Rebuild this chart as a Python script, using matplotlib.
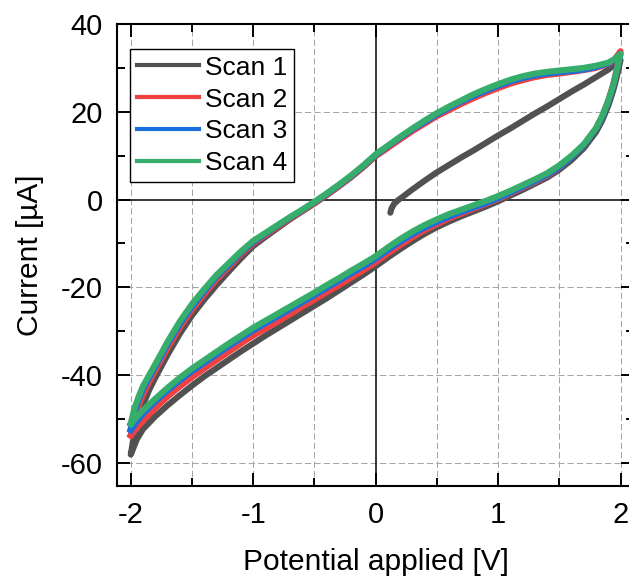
import matplotlib
matplotlib.use("Agg")
import matplotlib.pyplot as plt
from matplotlib.ticker import MultipleLocator
from matplotlib.lines import Line2D

plt.rcParams['font.family'] = ['Liberation Sans', 'DejaVu Sans']
plt.rcParams['axes.unicode_minus'] = False

# ---- data ----
labels = ["Scan 1", "Scan 2", "Scan 3", "Scan 4"]
colors = ["#515151", "#F14040", "#1A6FDF", "#37AD6B"]

# potentials of the forward (upper) branch, -2 -> 2 V
E_up = [-2.0, -1.97, -1.93, -1.9, -1.85, -1.8, -1.75, -1.7, -1.6, -1.5, -1.4, -1.3,
        -1.2, -1.1, -1.0, -0.9, -0.8, -0.7, -0.6, -0.5, -0.4, -0.3, -0.2, -0.1,
        0.0, 0.1, 0.2, 0.3, 0.4, 0.5, 0.6, 0.7, 0.8, 0.9, 1.0, 1.1, 1.2, 1.3,
        1.4, 1.5, 1.6, 1.7, 1.8, 1.9, 1.95, 2.0]
# potentials of the reverse (lower) branch, 2 -> -2 V
E_down = [2.0, 1.97, 1.94, 1.9, 1.85, 1.8, 1.7, 1.6, 1.5, 1.4, 1.3, 1.2, 1.1, 1.0,
          0.9, 0.8, 0.7, 0.6, 0.5, 0.4, 0.3, 0.2, 0.1, 0.0, -0.1, -0.2, -0.3, -0.4,
          -0.5, -0.6, -0.7, -0.8, -0.9, -1.0, -1.1, -1.2, -1.3, -1.4, -1.5, -1.6,
          -1.7, -1.8, -1.9, -1.95, -2.0]

# Scan 1: initial sweep from ~0.12 V up to 2 V
E1_init = [0.12, 0.13, 0.15, 0.18, 0.22, 0.3, 0.4, 0.5, 0.6, 0.7, 0.8, 0.9, 1.0,
           1.1, 1.2, 1.3, 1.4, 1.5, 1.6, 1.7, 1.8, 1.9, 2.0]
I1_init = [-3.0, -2.0, -1.0, -0.2, 0.6, 2.3, 4.3, 6.2, 7.9, 9.6, 11.2, 12.9, 14.6,
           16.2, 17.9, 19.6, 21.2, 22.9, 24.6, 26.2, 27.9, 29.6, 31.8]
I1_down = [31.8, 28.0, 24.8, 21.4, 18.0, 15.4, 11.7, 9.0, 6.8, 5.0, 3.6, 2.2, 0.9,
           -0.4, -1.6, -2.7, -3.8, -5.0, -6.3, -7.8, -9.5, -11.3, -13.2, -15.2,
           -17.1, -18.9, -20.7, -22.5, -24.2, -25.9, -27.6, -29.3, -31.0, -32.8,
           -34.6, -36.5, -38.4, -40.3, -42.4, -44.6, -46.9, -49.4, -52.3, -54.6, -58.1]
I1_up = [-58.1, -53.0, -49.0, -46.8, -43.4, -40.6, -38.0, -35.4, -30.6, -26.4,
         -22.8, -19.5, -16.4, -13.4, -10.6, -8.5, -6.5, -4.5, -2.7, -0.9, 1.0,
         3.0, 5.1, 7.4, 9.9, 11.8]

I2_up = [-53.6, -49.8, -46.6, -44.4, -41.6, -39.0, -36.5, -33.9, -29.2, -25.1,
         -21.6, -18.2, -15.4, -12.5, -10.0, -8.1, -6.2, -4.3, -2.6, -0.8, 1.1,
         3.1, 5.2, 7.5, 10.0, 11.8, 13.7, 15.6, 17.3, 19.0, 20.4, 21.8, 23.1,
         24.3, 25.4, 26.4, 27.2, 27.9, 28.4, 28.7, 29.1, 29.5, 30.0, 30.9, 31.9, 33.8]
I2_down = [33.8, 29.8, 26.2, 22.6, 19.0, 16.2, 12.4, 9.7, 7.3, 5.4, 4.0, 2.7, 1.4,
           0.1, -1.0, -2.1, -3.2, -4.3, -5.6, -7.0, -8.6, -10.4, -12.3, -14.3,
           -16.1, -17.8, -19.5, -21.1, -22.8, -24.4, -26.1, -27.8, -29.4, -31.0,
           -32.8, -34.7, -36.6, -38.5, -40.5, -42.6, -44.9, -47.5, -50.4, -52.0, -53.8]

I3_up = [-52.2, -48.4, -45.3, -43.2, -40.6, -38.1, -35.6, -33.0, -28.4, -24.4,
         -20.9, -17.6, -14.9, -12.1, -9.7, -7.8, -5.9, -4.1, -2.4, -0.6, 1.3,
         3.3, 5.4, 7.7, 10.2, 12.2, 14.1, 16.0, 17.7, 19.4, 20.9, 22.3, 23.6,
         24.8, 25.9, 26.9, 27.7, 28.3, 28.7, 29.0, 29.3, 29.6, 30.2, 31.0, 31.9, 33.2]
I3_down = [33.2, 29.5, 25.9, 22.3, 18.8, 16.1, 12.4, 9.7, 7.4, 5.6, 4.2, 2.9, 1.6,
           0.3, -0.8, -1.8, -2.8, -3.9, -5.1, -6.4, -7.9, -9.6, -11.5, -13.5,
           -15.2, -16.8, -18.5, -20.1, -21.8, -23.4, -25.0, -26.6, -28.2, -29.8,
           -31.6, -33.4, -35.3, -37.2, -39.1, -41.2, -43.5, -46.0, -48.8, -50.5, -52.6]

I4_up = [-51.0, -47.5, -44.5, -42.5, -40.0, -37.5, -35.0, -32.4, -27.8, -23.8,
         -20.4, -17.2, -14.5, -11.8, -9.4, -7.6, -5.8, -4.0, -2.3, -0.5, 1.4,
         3.4, 5.5, 7.8, 10.3, 12.3, 14.3, 16.2, 18.0, 19.7, 21.2, 22.6, 24.0,
         25.2, 26.3, 27.3, 28.1, 28.7, 29.1, 29.4, 29.7, 30.0, 30.5, 31.2, 32.0, 33.2]
I4_down = [33.2, 29.5, 26.0, 22.5, 19.0, 16.3, 12.6, 10.0, 7.8, 6.0, 4.6, 3.3, 2.0,
           0.8, -0.3, -1.3, -2.3, -3.3, -4.5, -5.8, -7.3, -9.0, -10.9, -12.9,
           -14.6, -16.2, -17.9, -19.5, -21.2, -22.8, -24.4, -26.0, -27.6, -29.2,
           -31.0, -32.8, -34.7, -36.6, -38.5, -40.6, -42.9, -45.4, -48.0, -49.5, -51.2]

xticks = [-2, -1, 0, 1, 2]
yticks = [40, 20, 0, -20, -40, -60]

# ---- figure ----
W, H = 629, 580
fig = plt.figure(figsize=(W / 100, H / 100), dpi=100)
L, R, T, B = 117.3, 634.0, 24.0, 485.7
ax = fig.add_axes([L / W, 1 - B / H, (R - L) / W, (B - T) / H])

ax.set_xlim(-2.11, 2.11)
ax.set_ylim(-65.2, 40)

grid_kw = dict(color="#a6a6a6", lw=0.75, ls=(0, (6, 3)), zorder=0)
for xv in [-2, -1.5, -1, -0.5, 0.5, 1, 1.5, 2]:
    ax.axvline(xv, **grid_kw)
for yv in [20, -20, -40, -60]:
    ax.axhline(yv, **grid_kw)
ax.axvline(0, color="black", lw=1.1, zorder=1)
ax.axhline(0, color="black", lw=1.1, zorder=1)

lw = 4.4
ax.plot(E1_init + E_down + E_up[:len(I1_up)], I1_init + I1_down + I1_up,
        color=colors[0], lw=lw, solid_capstyle="round", solid_joinstyle="round", zorder=3)
ax.plot(E_up + E_down, I2_up + I2_down, color=colors[1], lw=lw,
        solid_joinstyle="round", zorder=4)
ax.plot(E_up + E_down, I3_up + I3_down, color=colors[2], lw=lw,
        solid_joinstyle="round", zorder=5)
ax.plot(E_up + E_down, I4_up + I4_down, color=colors[3], lw=lw,
        solid_joinstyle="round", zorder=6)

ax.set_xticks(xticks)
ax.set_yticks(yticks)
ax.xaxis.set_minor_locator(MultipleLocator(0.5))
ax.yaxis.set_minor_locator(MultipleLocator(10))
ax.tick_params(which="both", direction="in", top=True, right=True, width=1.4,
               labelsize=21)
ax.tick_params(which="major", length=9.5)
ax.tick_params(which="minor", length=5.8)
ax.tick_params(axis="y", which="major", pad=10.5)
ax.tick_params(axis="x", which="major", pad=11)
for s in ax.spines.values():
    s.set_linewidth(1.5)

ax.set_xlabel("Potential applied [V]", fontsize=21.5, labelpad=14)
ax.set_ylabel("Current [µA]", fontsize=21.5, labelpad=12)

handles = [Line2D([], [], color=c, lw=3.0) for c in colors]
leg = ax.legend(handles, labels, loc="upper left",
                bbox_to_anchor=(12.7 / (R - L), 1 - 25 / (B - T)),
                borderaxespad=0, fontsize=19, frameon=True, fancybox=False,
                edgecolor="black", framealpha=1, handlelength=2.35,
                handletextpad=0.25, labelspacing=0.3, borderpad=0.25)
leg.get_frame().set_linewidth(1.0)
leg.set_zorder(10)

fig.savefig("out.png", dpi=100)
